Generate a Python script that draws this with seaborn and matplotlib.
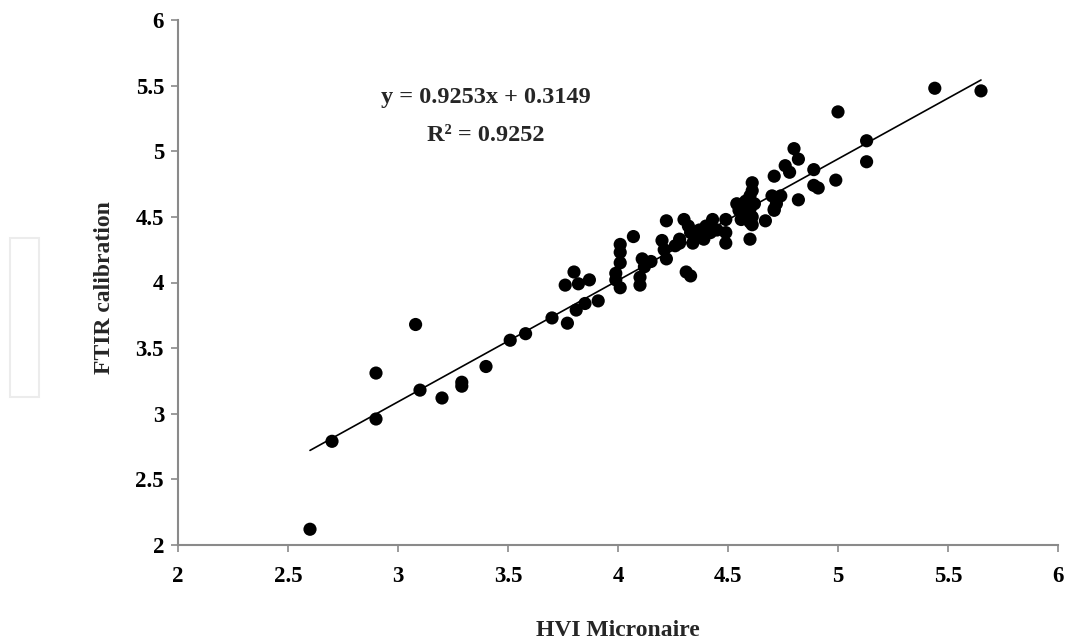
import numpy as np
import pandas as pd
import matplotlib
matplotlib.use("Agg")
import matplotlib.pyplot as plt
from matplotlib.patches import Rectangle
import seaborn as sns

# ---- data ----
hvi_micronaire = [2.60, 2.70, 2.90, 2.90, 3.08, 3.10, 3.20, 3.29, 3.29, 3.40,
                  3.51, 3.58, 3.70, 3.77, 3.76, 3.80, 3.82, 3.81, 3.85, 3.87,
                  3.91, 3.99, 3.99, 4.01, 4.01, 4.01, 4.01, 4.07, 4.10, 4.10,
                  4.11, 4.12, 4.15, 4.20, 4.21, 4.22, 4.22, 4.26, 4.28, 4.28,
                  4.31, 4.33, 4.30, 4.32, 4.33, 4.34, 4.37, 4.39, 4.40, 4.43,
                  4.35, 4.42, 4.45, 4.49, 4.49, 4.49, 4.54, 4.57, 4.57, 4.60,
                  4.60, 4.60, 4.60, 4.61, 4.61, 4.61, 4.61, 4.62, 4.55, 4.58,
                  4.59, 4.56, 4.67, 4.70, 4.71, 4.71, 4.72, 4.74, 4.71, 4.76,
                  4.78, 4.80, 4.82, 4.82, 4.89, 4.89, 4.91, 4.99, 5.00, 5.13,
                  5.13, 5.44, 5.65]
ftir_calibration = [2.12, 2.79, 2.96, 3.31, 3.68, 3.18, 3.12, 3.21, 3.24, 3.36,
                    3.56, 3.61, 3.73, 3.69, 3.98, 4.08, 3.99, 3.79, 3.84, 4.02,
                    3.86, 4.07, 4.02, 3.96, 4.15, 4.23, 4.29, 4.35, 4.04, 3.98,
                    4.18, 4.12, 4.16, 4.32, 4.25, 4.18, 4.47, 4.28, 4.33, 4.30,
                    4.08, 4.05, 4.48, 4.43, 4.38, 4.30, 4.40, 4.33, 4.43, 4.48,
                    4.35, 4.38, 4.40, 4.48, 4.38, 4.30, 4.60, 4.58, 4.51, 4.66,
                    4.56, 4.46, 4.33, 4.70, 4.76, 4.50, 4.44, 4.60, 4.55, 4.62,
                    4.50, 4.48, 4.47, 4.66, 4.56, 4.55, 4.60, 4.66, 4.81, 4.89,
                    4.84, 5.02, 4.94, 4.63, 4.86, 4.74, 4.72, 4.78, 5.30, 5.08,
                    4.92, 5.48, 5.46]
fit_slope = 0.9253
fit_intercept = 0.3149
fit_r2 = 0.9252
x_ticks = [2, 2.5, 3, 3.5, 4, 4.5, 5, 5.5, 6]
y_ticks = [2, 2.5, 3, 3.5, 4, 4.5, 5, 5.5, 6]
x_label = "HVI Micronaire"
y_label = "FTIR calibration"

df = pd.DataFrame({"HVI": hvi_micronaire, "FTIR": ftir_calibration})
x_line = np.array([min(hvi_micronaire), max(hvi_micronaire)])
line_df = pd.DataFrame({"x": x_line, "y": fit_slope * x_line + fit_intercept})

sns.set_style("white")
plt.rcParams["font.family"] = ["Liberation Serif", "DejaVu Serif"]
plt.rcParams["font.weight"] = "bold"

fig = plt.figure(figsize=(10.70, 6.42), dpi=100)
ax = fig.add_axes([178 / 1070, 1 - 545 / 642, 880 / 1070, 525 / 642])

sns.scatterplot(data=df, x="HVI", y="FTIR", ax=ax, color="black", s=90,
                edgecolor="none", linewidth=0, zorder=3)
sns.lineplot(data=line_df, x="x", y="y", ax=ax, color="black", linewidth=1.2,
             zorder=2)

ax.set_xlim(2, 6)
ax.set_ylim(2, 6)
ax.set_xticks(x_ticks)
ax.set_yticks(y_ticks)
ax.set_xticklabels([f"{t:g}" for t in x_ticks])
ax.set_yticklabels([f"{t:g}" for t in y_ticks])

for side in ["top", "right"]:
    ax.spines[side].set_visible(False)
for side in ["left", "bottom"]:
    ax.spines[side].set_color("#8a8a8a")
    ax.spines[side].set_linewidth(1.5)

ax.tick_params(axis="both", which="major", direction="out", length=5, width=1.2,
               color="#8a8a8a", labelsize=16.5, labelcolor="black",
               bottom=True, left=True)
ax.tick_params(axis="x", pad=10)
ax.tick_params(axis="y", pad=5)
for lab in ax.get_xticklabels() + ax.get_yticklabels():
    lab.set_fontweight("bold")

ax.set_xlabel(x_label, fontsize=17, fontweight="bold")
ax.set_ylabel(y_label, fontsize=17, fontweight="bold")
ax.xaxis.set_label_coords(0.5, -0.142)
ax.yaxis.set_label_coords(-0.072, 0.49)

ax.text(3.40, 5.41, f"y = {fit_slope:.4f}x + {fit_intercept:.4f}", ha="center",
        va="center", fontsize=17.5, fontweight="bold")
ax.text(3.40, 5.12, f"R² = {fit_r2:.4f}", ha="center", va="center",
        fontsize=17.5, fontweight="bold")

fig.add_artist(Rectangle((10 / 1070, 1 - 397 / 642), 29 / 1070, 159 / 642,
                         fill=False, edgecolor="#ececec", linewidth=1.5,
                         transform=fig.transFigure))

fig.savefig("out.png", dpi=100)
